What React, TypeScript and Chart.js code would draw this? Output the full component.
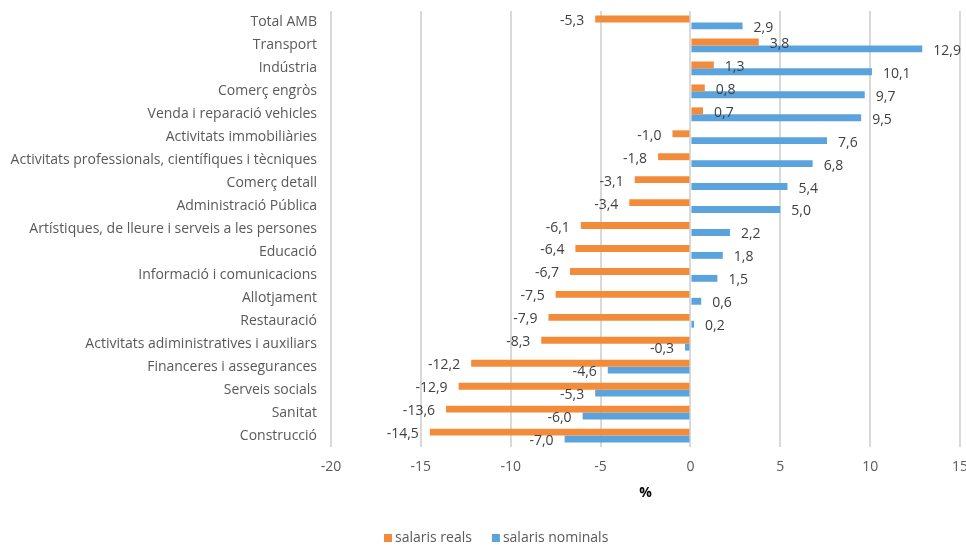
import React, { useEffect, useRef } from "react";
import { Chart, registerables } from "chart.js";

Chart.register(...registerables);

const categories = [
  "Total AMB",
  "Transport",
  "Indústria",
  "Comerç engròs",
  "Venda i reparació vehicles",
  "Activitats immobiliàries",
  "Activitats professionals, científiques i tècniques",
  "Comerç detall",
  "Administració Pública",
  "Artístiques, de lleure i serveis a les persones",
  "Educació",
  "Informació i comunicacions",
  "Allotjament",
  "Restauració",
  "Activitats adiministratives i auxiliars",
  "Financeres i assegurances",
  "Serveis socials",
  "Sanitat",
  "Construcció",
];

const salarisReals = [-5.3, 3.8, 1.3, 0.8, 0.7, -1.0, -1.8, -3.1, -3.4, -6.1, -6.4, -6.7, -7.5, -7.9, -8.3, -12.2, -12.9, -13.6, -14.5];
const salarisNominals = [2.9, 12.9, 10.1, 9.7, 9.5, 7.6, 6.8, 5.4, 5.0, 2.2, 1.8, 1.5, 0.6, 0.2, -0.3, -4.6, -5.3, -6.0, -7.0];

const seriesNames = ["salaris reals", "salaris nominals"];
const seriesColors = ["#F28C3B", "#5BA3DC"];
const xMin = -20;
const xMax = 15;
const xStep = 5;
const axisTitle = "%";

const FONT = "'Open Sans', sans-serif";

const fmt = (v: number) => v.toFixed(1).replace(".", ",");

const labelPlugin = {
  id: "barLabels",
  afterDatasetsDraw(chart: any) {
    const ctx = chart.ctx;
    ctx.save();
    ctx.font = `14px ${FONT}`;
    ctx.fillStyle = "#404040";
    ctx.textBaseline = "middle";
    chart.data.datasets.forEach((ds: any, di: number) => {
      const meta = chart.getDatasetMeta(di);
      meta.data.forEach((bar: any, i: number) => {
        const v = ds.data[i] as number;
        const t = fmt(v);
        if (v >= 0) {
          ctx.textAlign = "left";
          ctx.fillText(t, bar.x + 11, bar.y + 2);
        } else {
          ctx.textAlign = "right";
          ctx.fillText(t, bar.x - 11, bar.y + 2);
        }
      });
    });
    ctx.restore();
  },
};

const legendPlugin = {
  id: "customLegend",
  afterDraw(chart: any) {
    const ctx = chart.ctx;
    ctx.save();
    ctx.font = `14px ${FONT}`;
    ctx.textBaseline = "middle";
    ctx.textAlign = "left";
    const y = 538;
    let x = 384;
    chart.data.datasets.forEach((ds: any) => {
      ctx.fillStyle = ds.backgroundColor;
      ctx.fillRect(x, y - 4, 8, 8);
      ctx.fillStyle = "#595959";
      ctx.fillText(ds.label, x + 11, y);
      x += 11 + ctx.measureText(ds.label).width + 20;
    });
    ctx.restore();
  },
};

export default function App() {
  const ref = useRef<HTMLCanvasElement | null>(null);
  useEffect(() => {
    if (!ref.current) return;
    const chart = new Chart(ref.current, {
      type: "bar",
      data: {
        labels: categories,
        datasets: [
          { label: seriesNames[0], data: salarisReals, backgroundColor: seriesColors[0] },
          { label: seriesNames[1], data: salarisNominals, backgroundColor: seriesColors[1] },
        ],
      },
      options: {
        indexAxis: "y",
        animation: false,
        responsive: true,
        maintainAspectRatio: false,
        layout: { padding: { top: 11, right: 6, left: 0, bottom: 0 } },
        datasets: { bar: { categoryPercentage: 0.6, barPercentage: 1 } },
        plugins: {
          legend: { display: false },
          tooltip: { enabled: false },
        },
        scales: {
          x: {
            min: xMin,
            max: xMax,
            ticks: { stepSize: xStep, color: "#595959", font: { family: FONT, size: 14 }, padding: 12 },
            grid: { color: "#d9d9d9", lineWidth: 2, drawTicks: false },
            border: { display: false },
            title: {
              display: true,
              text: axisTitle,
              color: "#000",
              font: { family: FONT, size: 14, weight: "bold" },
              padding: { top: 0, bottom: 44 },
            },
            afterFit(scale: any) {
              scale.height = 98;
              scale.paddingLeft = 0;
              scale.paddingRight = 0;
            },
          },
          y: {
            ticks: { color: "#595959", font: { family: FONT, size: 14 }, padding: 14 },
            grid: { display: false, drawTicks: false },
            border: { display: false },
            afterFit(scale: any) {
              scale.width = 331;
              scale.paddingTop = 0;
              scale.paddingBottom = 0;
            },
          },
        },
      },
      plugins: [labelPlugin, legendPlugin],
    });
    return () => chart.destroy();
  }, []);
  return (
    <div style={{ position: "fixed", left: 0, top: 0, width: 966, height: 545, background: "#fff" }}>
      <canvas ref={ref} />
    </div>
  );
}
